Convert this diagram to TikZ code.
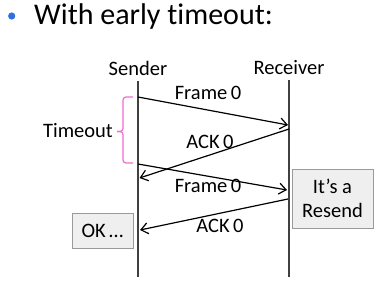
\documentclass[tikz,border=0pt]{standalone}
\usepackage{fontspec}
\setmainfont{Carlito}[Ligatures={NoCommon}]
\usetikzlibrary{arrows.meta}
\definecolor{bulletblue}{HTML}{2F6FDF}
\definecolor{bracepink}{HTML}{F06CD0}
\definecolor{boxfill}{HTML}{EFEFEF}
\definecolor{boxline}{HTML}{9A9A9A}
\tikzset{
  lbl/.style={font=\fontsize{20.5}{24}\selectfont, inner sep=0pt},
  life/.style={draw=black!75, line width=1.2pt},
  msg/.style={draw=black, line width=1.2pt, -{Straight Barb[length=7pt,width=11pt,line width=1.2pt]}},
  notebox/.style={draw=boxline, fill=boxfill, line width=0.8pt, font=\fontsize{20.5}{24}\selectfont, align=center, inner sep=0pt}
}
\begin{document}
\begin{tikzpicture}[x=1pt,y=-1pt]
\useasboundingbox (0,0) rectangle (392,284);
% title
\fill[bulletblue] (11.7,16) circle (3.6);
\node[anchor=west, font=\fontsize{30}{36}\selectfont, inner sep=0pt] (title) at (34,17) {With early timeout:};
% headers
\node[lbl] (sender) at (138,68) {Sender};
\node[lbl] (receiver) at (289,68) {Receiver};
% lifelines
\coordinate (stop) at (138,81);
\coordinate (sbot) at (138,277);
\coordinate (rtop) at (289,80);
\coordinate (rbot) at (289,277);
\draw[life] (stop) -- (sbot);
\draw[life] (rtop) -- (rbot);
% message endpoints
\coordinate (f1s) at (138,97);
\coordinate (f1r) at (288,125);
\coordinate (a1r) at (289,129);
\coordinate (a1s) at (139.5,178);
\coordinate (f2s) at (138,164);
\coordinate (f2r) at (287,190);
\coordinate (a2r) at (288,199);
\coordinate (a2s) at (140,230);
\draw[msg] (f1s) -- (f1r);
\draw[msg] (a1r) -- (a1s);
\draw[msg] (f2s) -- (f2r);
\draw[msg] (a2r) -- (a2s);
% labels
\node[lbl] (lf1) at (208,93) {Frame\,0};
\node[lbl] (la1) at (210,142) {ACK\,0};
\node[lbl] (lf2) at (208,186) {Frame\,0};
\node[lbl] (la2) at (220,226) {ACK\,0};
% timeout brace
\draw[bracepink, line width=1.2pt, rounded corners=3pt] (133,97) -- (123,97) -- (123,131.5) -- (117,131.5);
\draw[bracepink, line width=1.2pt, rounded corners=3pt] (117,131.5) -- (123,131.5) -- (123,163) -- (133,163);
\node[lbl, anchor=east] (timeout) at (113,131) {Timeout};
% boxes
\node[notebox, minimum width=61pt, minimum height=35pt] (ok) at (102.5,230.5) {OK\,…};
\node[notebox, minimum width=81pt, minimum height=59pt] (resend) at (332.5,198.5) {It’s a\\Resend};
\end{tikzpicture}
\end{document}
